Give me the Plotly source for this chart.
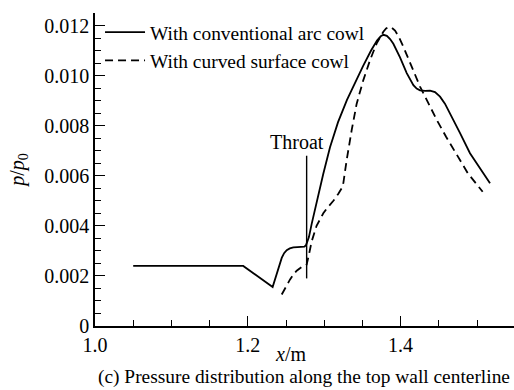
import plotly.graph_objects as go

# ---- data ----
x_conv = [1.05, 1.12, 1.194, 1.2325, 1.2340, 1.2360, 1.2385, 1.2415, 1.2444, 1.2475, 1.2509, 1.2550,
          1.2596, 1.2650, 1.2705, 1.2740, 1.2762, 1.2800,
          1.2836, 1.2902, 1.2988, 1.3076, 1.3181, 1.3298, 1.3403, 1.3508, 1.3613, 1.3691, 1.3740,
          1.3775, 1.3820, 1.3862, 1.3905, 1.3950, 1.3992, 1.408, 1.4167, 1.4210, 1.4254, 1.4320, 1.4385,
          1.4450, 1.4516, 1.4580, 1.4647, 1.4778, 1.4908, 1.504, 1.517]
y_conv = [0.0024, 0.00241, 0.0024, 0.00156, 0.00170, 0.00190, 0.00215, 0.00245, 0.00272, 0.00291, 0.00303, 0.00310,
          0.00314, 0.00315, 0.00315, 0.00317, 0.00323, 0.00355,
          0.00408, 0.00500, 0.00608, 0.00714, 0.00814, 0.00903, 0.00974, 0.01038, 0.01100, 0.01140, 0.01157,
          0.01163, 0.01159, 0.01146, 0.01127, 0.01102, 0.01073, 0.01010, 0.00962, 0.00948, 0.00941, 0.00939, 0.00940,
          0.00934, 0.00916, 0.00888, 0.00850, 0.00770, 0.00690, 0.00630, 0.00570]

x_curv = [1.2444, 1.2500, 1.2553, 1.2600, 1.2640, 1.2705, 1.2745, 1.277, 1.2800, 1.2836, 1.290, 1.2950,
          1.2988, 1.303, 1.312, 1.3185, 1.3229, 1.3250, 1.3270, 1.3294, 1.336, 1.3425, 1.3512, 1.360,
          1.3687, 1.3774, 1.3810, 1.3839, 1.3880, 1.3927, 1.3980, 1.4036, 1.4145, 1.4254, 1.4363, 1.4473,
          1.4595, 1.4725, 1.488, 1.5074]
y_curv = [0.00126, 0.00158, 0.00186, 0.00207, 0.00221, 0.00236, 0.00240, 0.00245, 0.00285, 0.00338, 0.00400, 0.00432,
          0.00450, 0.00468, 0.00500, 0.00528, 0.00550, 0.00570, 0.00605, 0.00663, 0.00783, 0.00888, 0.00982, 0.01062,
          0.01129, 0.01175, 0.01188, 0.01193, 0.01192, 0.01180, 0.01152, 0.01115, 0.01036, 0.00956, 0.00890, 0.00823,
          0.00756, 0.00690, 0.00610, 0.00536]

names = ["With conventional arc cowl", "With curved surface cowl"]

throat_x = 1.277
throat_y = [0.0019, 0.0068]
throat_label = "Throat"
throat_label_pos = (1.2644, 0.00735)

y_tickvals = [0, 0.002, 0.004, 0.006, 0.008, 0.010, 0.012]
y_ticktext = ["0", "0.002", "0.004", "0.006", "0.008", "0.010", "0.012"]
x_tickvals = [1.0, 1.2, 1.4]
x_ticktext = ["1.0", "1.2", "1.4"]

FONT = "Liberation Serif"
FS = 20

fig = go.Figure()
fig.add_trace(go.Scatter(x=x_conv, y=y_conv, mode="lines", name=names[0],
                         line=dict(color="black", width=1.8)))
fig.add_trace(go.Scatter(x=x_curv, y=y_curv, mode="lines", name=names[1],
                         line=dict(color="black", width=1.8, dash="8px,5px")))

# throat marker
fig.add_trace(go.Scatter(x=[throat_x, throat_x], y=throat_y, mode="lines", showlegend=False,
                         line=dict(color="black", width=1.4)))
fig.add_annotation(x=throat_label_pos[0], y=throat_label_pos[1], text=throat_label, showarrow=False,
                   xanchor="center", yanchor="middle",
                   font=dict(family=FONT, size=FS, color="black"))

fig.add_annotation(x=0.4654, y=-0.0895, xref="paper", yref="paper", text="<i>x</i>/m", showarrow=False,
                   xanchor="center", yanchor="middle",
                   font=dict(family=FONT, size=FS, color="black"))
fig.add_annotation(x=0.4990, y=-0.163, xref="paper", yref="paper",
                   text="(c) Pressure distribution along the top wall centerline", showarrow=False,
                   xanchor="center", yanchor="middle",
                   font=dict(family=FONT, size=19.4, color="black"))

fig.update_layout(
    width=514, height=390,
    margin=dict(l=95, r=0, t=13, b=64),
    paper_bgcolor="white", plot_bgcolor="white",
    font=dict(family=FONT, size=FS, color="black"),
    legend=dict(x=0.012, y=1.0, xanchor="left", yanchor="top", bgcolor="rgba(0,0,0,0)",
                font=dict(family=FONT, size=19.4, color="black"), tracegroupgap=0, itemwidth=40),
    xaxis=dict(range=[1.0, 1.5484], showgrid=False, zeroline=False, showline=True,
               linecolor="black", linewidth=1.6, ticks="inside", ticklen=10, tickwidth=1.4,
               tickcolor="black", tickvals=x_tickvals, ticktext=x_ticktext,
               minor=dict(tick0=1.0, dtick=0.05, ticks="inside", ticklen=6, tickwidth=1.4, tickcolor="black"),
               tickfont=dict(family=FONT, size=FS, color="black")),
    yaxis=dict(range=[0, 0.0125], showgrid=False, zeroline=False, showline=True,
               linecolor="black", linewidth=1.6, ticks="inside", ticklen=10, tickwidth=1.4,
               tickcolor="black", tickvals=y_tickvals, ticktext=y_ticktext,
               minor=dict(tick0=0, dtick=0.0005, ticks="inside", ticklen=6, tickwidth=1.4, tickcolor="black"),
               tickfont=dict(family=FONT, size=FS, color="black"),
               title=dict(text="<i>p</i>/<i>p</i><sub>0</sub>", standoff=14,
                          font=dict(family=FONT, size=FS, color="black"))),
)

fig.write_html("out.html")
